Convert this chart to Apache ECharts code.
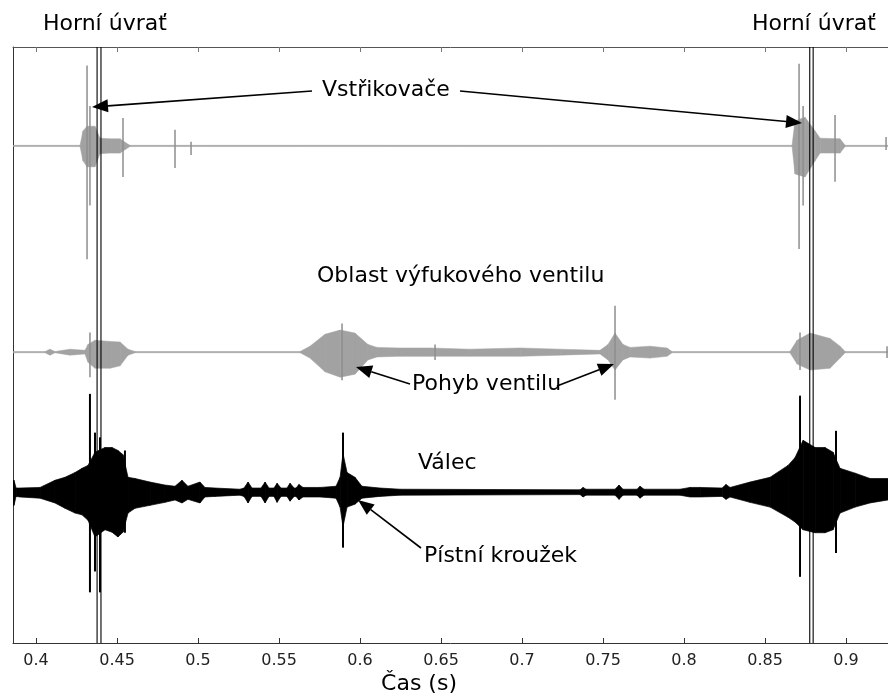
<!DOCTYPE html>
<html><head><meta charset="utf-8">
<script src="https://cdn.jsdelivr.net/npm/echarts@6/dist/echarts.min.js"></script>
<style>html,body{margin:0;padding:0;background:#fff}#c{width:888px;height:699px}</style>
</head><body><div id="c"></div>
<script>
// ---- axis ----
const xTicks = [0.4,0.45,0.5,0.55,0.6,0.65,0.7,0.75,0.8,0.85,0.9];
const xMin = 0.3858, xMax = 0.9259;
// top dead centre markers (s)
const tdcTimes = [0.4377,0.4401,0.8776,0.8797];

// ---- Vstřikovače (injector) trace: envelope ----
const injT  = [0.3858,0.4272,0.4290,0.4315,0.4364,0.4395,0.4457,0.4519,0.4556,0.4580,0.8667,0.8685,0.8747,0.8809,0.8840,0.8963,0.8994,0.9259];
const injUp = [0.1,0.1,2.5,3.3,3.3,1.3,1.2,1.2,0.5,0.1,0.1,4.2,4.8,2.5,1.3,1.2,0.1,0.1];
const injDn = [0.1,0.1,2.5,3.5,3.5,1.3,1.2,1.2,0.5,0.1,0.1,4.7,5.2,2.5,1.2,1.2,0.1,0.1];
const injSpikeT  = [0.4315,0.4333,0.4537,0.4858,0.4957,0.8710,0.8735,0.8932,0.9247];
const injSpikeUp = [13.5,6.7,4.7,2.7,0.7,13.8,6.7,5.2,1.5];
const injSpikeDn = [19,10,5.2,3.7,1.5,17.3,10,6,0.7];

// ---- Oblast výfukového ventilu (exhaust valve) trace ----
const exhT  = [0.3858,0.4056,0.4086,0.4117,0.4210,0.4302,0.4321,0.4364,0.4457,0.4519,0.4568,0.4611,0.5630,0.5691,0.5784,0.5877,0.5969,0.6049,0.6105,0.6247,0.6432,0.6679,0.6988,0.7235,0.7481,0.7531,0.7574,0.7623,0.7667,0.7790,0.7895,0.7926,0.8654,0.8698,0.8778,0.8901,0.8963,0.8994,0.9259];
const exhUp = [0.1,0.1,0.5,0.1,0.5,0.3,1.3,2,1.8,1.7,0.5,0.1,0.1,1,3,3.7,3.2,1.3,0.8,0.7,0.7,0.5,0.7,0.5,0.3,1.3,3.2,1.3,0.8,1,0.7,0.1,0.1,2,3.2,2.3,1,0.1,0.1];
const exhDn = [0.1,0.1,0.5,0.1,0.5,0.3,1.7,2.7,2.7,2.3,0.5,0.1,0.1,1,3.3,4.2,3.7,1.3,0.8,0.7,0.7,0.7,0.7,0.5,0.3,1.3,3,1.3,0.8,1,0.7,0.1,0.1,2,3,2.7,1,0.1,0.1];
const exhSpikeT  = [0.4333,0.5889,0.6463,0.7574,0.8716,0.9253];
const exhSpikeUp = [3.3,4.8,1.3,7.8,3.3,1];
const exhSpikeDn = [4.2,4.7,1.3,8,3,1];

// ---- Válec (cylinder) trace ----
const cylT  = [0.3858,0.3864,0.3877,0.3901,0.4025,0.4117,0.4179,0.4241,0.4284,0.4321,0.4364,0.4426,0.4469,0.4506,0.4537,0.4568,0.4611,0.4704,0.4796,0.4858,0.4901,0.4938,0.5012,0.5043,0.5105,0.5259,0.5284,0.5309,0.5333,0.5389,0.5414,0.5438,0.5469,0.5488,0.5512,0.5549,0.5568,0.5593,0.5605,0.5623,0.5648,0.5753,0.5852,0.5877,0.5895,0.5920,0.5969,0.6012,0.6123,0.6247,0.7358,0.7377,0.7395,0.7574,0.7599,0.7623,0.7710,0.7728,0.7753,0.7975,0.8037,0.8099,0.8235,0.8259,0.8284,0.8407,0.8531,0.8642,0.8685,0.8735,0.8809,0.8870,0.8920,0.8963,0.9056,0.9148,0.9259];
const cylUp = [2,2,0.7,0.7,0.8,2,2.5,3.3,4,4.5,6.7,7.5,7.5,7,6.3,2.5,2.3,1.7,1.2,1,2,1,1.7,0.8,0.7,0.5,0.7,1.7,0.7,0.7,1.7,0.7,0.7,1.5,0.7,0.7,1.5,0.7,0.7,1.3,0.8,0.8,1,2.5,6.5,3.3,2.5,1,0.7,0.5,0.4,0.8,0.5,0.5,1.2,0.5,0.5,1,0.5,0.5,0.8,0.8,0.7,1.3,0.8,1.7,2.5,4.5,5.8,8.7,7.5,7.5,6.7,4,3.2,2.3,2.3];
const cylDn = [2.2,2.2,0.7,0.8,1,1.8,2.7,3.5,3.8,4.7,7.5,6.3,6.7,7.5,6.7,3.5,2.7,2.2,1.7,1.3,1.8,1.2,1.8,0.8,0.7,0.5,0.7,1.8,0.7,0.7,1.8,0.7,0.7,1.7,0.7,0.7,1.5,0.7,0.7,1.3,0.8,0.8,1,2.5,5.8,2.5,2,1,0.7,0.5,0.4,0.8,0.5,0.5,1.2,0.5,0.5,1,0.5,0.5,0.8,0.8,0.7,1.2,0.8,1.7,2.5,4.2,5,6.3,6.8,6.8,6.3,3.5,2.5,1.8,1.3];
const cylSpikeT  = [0.4333,0.4364,0.4395,0.4549,0.5895,0.8716,0.8938];
const cylSpikeUp = [16.5,10,9.2,7,10,16.2,10.3];
const cylSpikeDn = [16.8,13.3,16.8,6.8,9.3,14.2,10.2];

// ---- layout (vertical offsets of the traces on the 0..100 axis) ----
const OFF_INJ = 83.4, OFF_EXH = 48.8, OFF_CYL = 25.3;
const GRAY = '#a2a2a2', GRAY_SPIKE = '#8e8e8e', BLACK = '#000';
const FONT = '"DejaVu Sans", sans-serif';

function envData(T, U, D, off) {
  const out = [];
  for (let i = 0; i < T.length - 1; i++) {
    out.push([T[i], off + U[i], off - D[i], T[i+1], off + U[i+1], off - D[i+1]]);
  }
  return out;
}
function spikeData(T, U, D, off) {
  return T.map((t, i) => [t, off + U[i], off - D[i]]);
}
function envSeries(data, color, sw) {
  return {
    type: 'custom', data: data, clip: true, silent: true,
    encode: { x: [0, 3], y: [1, 2, 4, 5] },
    renderItem: function (params, api) {
      const a = api.coord([api.value(0), api.value(1)]);
      const b = api.coord([api.value(3), api.value(4)]);
      const c = api.coord([api.value(3), api.value(5)]);
      const d = api.coord([api.value(0), api.value(2)]);
      return { type: 'polygon', shape: { points: [a, b, c, d] },
        style: { fill: color, stroke: color, lineWidth: sw } };
    }
  };
}
function spikeSeries(data, color, w) {
  return {
    type: 'custom', data: data, clip: true, silent: true,
    encode: { x: 0, y: [1, 2] },
    renderItem: function (params, api) {
      const a = api.coord([api.value(0), api.value(1)]);
      const b = api.coord([api.value(0), api.value(2)]);
      return { type: 'line', shape: { x1: a[0], y1: a[1], x2: b[0], y2: b[1] },
        style: { stroke: color, lineWidth: w } };
    }
  };
}
function vlineSeries(times, color, w) {
  return {
    type: 'custom', data: times.map(t => [t]), clip: true, silent: true, z: 5,
    encode: { x: 0 },
    renderItem: function (params, api) {
      const a = api.coord([api.value(0), 0]);
      const b = api.coord([api.value(0), 100]);
      return { type: 'line', shape: { x1: a[0], y1: a[1], x2: b[0], y2: b[1] },
        style: { stroke: color, lineWidth: w } };
    }
  };
}
function arrow(x1, y1, x2, y2) {
  const dx = x2 - x1, dy = y2 - y1, L = Math.hypot(dx, dy), ux = dx / L, uy = dy / L;
  const hl = 16, hw = 6.5;
  const bx = x2 - ux * hl, by = y2 - uy * hl;
  return [
    { type: 'line', shape: { x1: x1, y1: y1, x2: bx, y2: by }, style: { stroke: '#000', lineWidth: 1.6 }, z: 100 },
    { type: 'polygon', shape: { points: [[x2, y2], [bx - uy * hw, by + ux * hw], [bx + uy * hw, by - ux * hw]] }, style: { fill: '#000' }, z: 100 }
  ];
}
function label(text, x, y, align) {
  return { type: 'text', z: 100, style: { text: text, x: x, y: y, fill: '#000',
    font: '22px ' + FONT, align: align || 'left', verticalAlign: 'middle' } };
}

const chart = echarts.init(document.getElementById('c'), null, { renderer: 'canvas' });
const isTick = v => Math.abs(v * 20 - Math.round(v * 20)) < 1e-6;

chart.setOption({
  animation: false,
  backgroundColor: '#fff',
  grid: { left: 13, right: 0, top: 47, bottom: 56, containLabel: false },
  xAxis: [{
    type: 'value', position: 'bottom', min: xMin, max: xMax, splitNumber: 11,
    axisLine: { show: true, lineStyle: { color: '#333', width: 1 } },
    axisTick: { show: true, inside: true, length: 5, lineStyle: { color: '#333' }, customValues: xTicks },
    axisLabel: { show: true, margin: 10, fontSize: 16, fontFamily: FONT, color: '#222',
      customValues: xTicks,
      formatter: v => isTick(v) ? String(+(+v).toFixed(2)) : '' },
    splitLine: { show: false }
  }, {
    type: 'value', position: 'top', min: xMin, max: xMax, splitNumber: 11,
    axisLine: { show: true, lineStyle: { color: '#555', width: 1 } },
    axisTick: { show: true, inside: true, length: 5, lineStyle: { color: '#777' }, customValues: xTicks },
    axisLabel: { show: false }, splitLine: { show: false }
  }],
  yAxis: {
    type: 'value', min: 0, max: 100,
    axisLine: { show: true, lineStyle: { color: '#333', width: 1 } },
    axisTick: { show: false }, axisLabel: { show: false }, splitLine: { show: false }
  },
  series: [
    envSeries(envData(injT, injUp, injDn, OFF_INJ), GRAY, 0.5),
    spikeSeries(spikeData(injSpikeT, injSpikeUp, injSpikeDn, OFF_INJ), GRAY_SPIKE, 1.5),
    envSeries(envData(exhT, exhUp, exhDn, OFF_EXH), GRAY, 0.5),
    spikeSeries(spikeData(exhSpikeT, exhSpikeUp, exhSpikeDn, OFF_EXH), GRAY_SPIKE, 1.5),
    envSeries(envData(cylT, cylUp, cylDn, OFF_CYL), BLACK, 0.7),
    spikeSeries(spikeData(cylSpikeT, cylSpikeUp, cylSpikeDn, OFF_CYL), BLACK, 2),
    vlineSeries(tdcTimes, '#000', 1.1)
  ],
  graphic: [
    label('Horní úvrať', 43, 24),
    label('Horní úvrať', 752, 24),
    label('Vstřikovače', 322, 90),
    label('Oblast výfukového ventilu', 317, 276),
    label('Pohyb ventilu', 412, 384),
    label('Válec', 418, 463),
    label('Pístní kroužek', 424, 556),
    label('Čas (s)', 419, 684, 'center')
  ].concat(
    arrow(312, 91, 92, 107),
    arrow(460, 91, 802, 123),
    arrow(410, 384, 356, 367),
    arrow(557, 386, 614, 364),
    arrow(421, 548, 358, 500)
  )
});
</script>
</body></html>
